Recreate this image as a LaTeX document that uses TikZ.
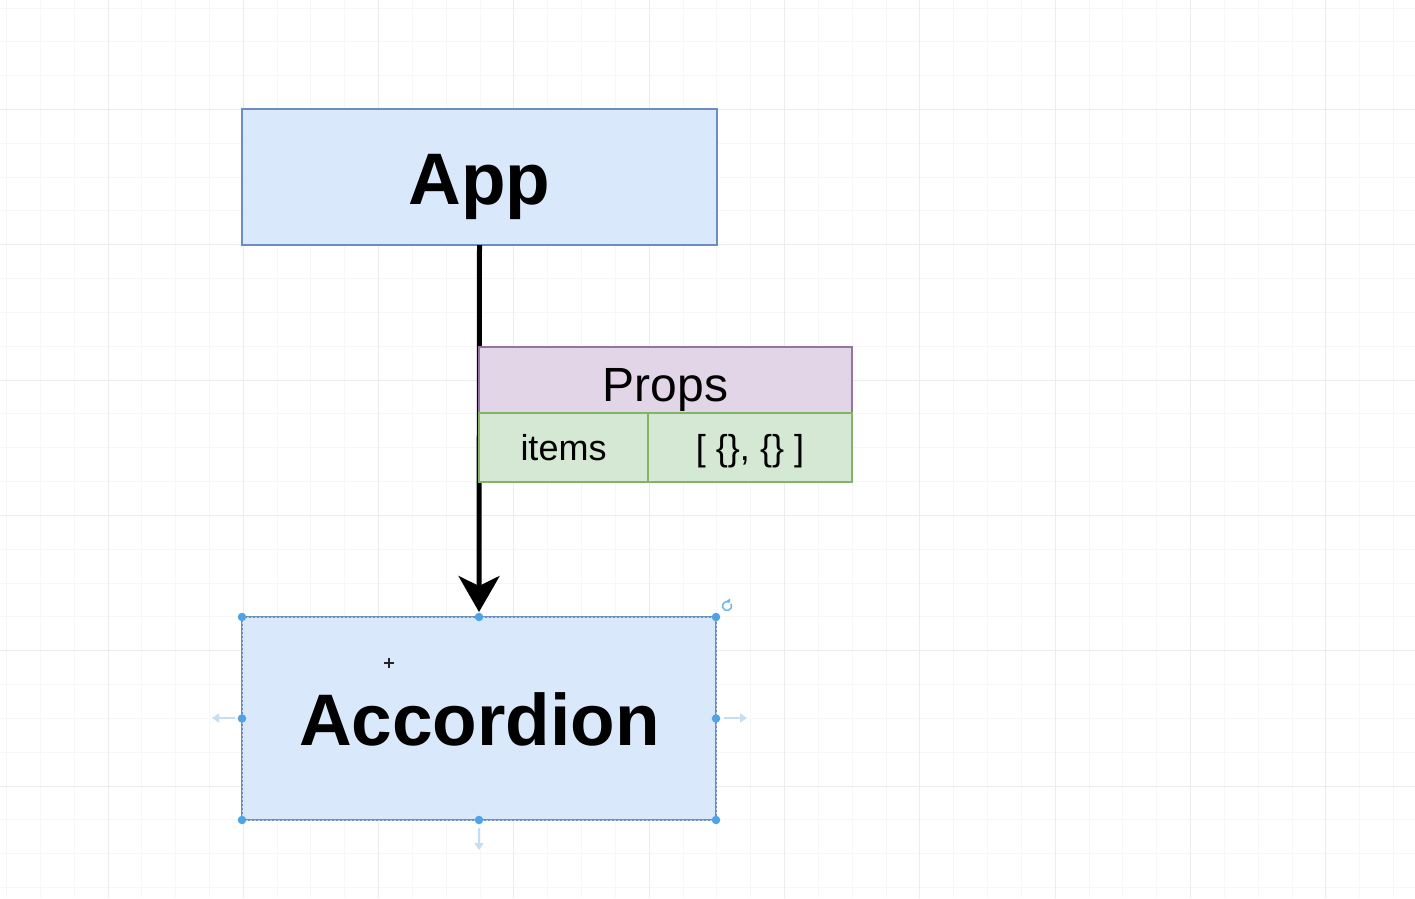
\documentclass[tikz,border=0pt]{standalone}
\usepackage{fontspec}
\setmainfont{Liberation Sans}
\usetikzlibrary{arrows.meta}
\definecolor{bluefill}{HTML}{DAE8FC}
\definecolor{bluedraw}{HTML}{6C8EBF}
\definecolor{purplefill}{HTML}{E1D5E7}
\definecolor{purpledraw}{HTML}{9673A6}
\definecolor{greenfill}{HTML}{D5E8D4}
\definecolor{greendraw}{HTML}{82B366}
\definecolor{handle}{HTML}{4DA3E4}
\definecolor{hint}{HTML}{C5DFF2}
\definecolor{minorgrid}{HTML}{F7F7F7}
\definecolor{majorgrid}{HTML}{ECECEC}
\tikzset{
  compbox/.style={draw=bluedraw, fill=bluefill, line width=2.5pt, inner sep=0pt, outer sep=0pt},
  complabel/.style={anchor=base, inner sep=0pt, font=\fontsize{73}{80}\selectfont\bfseries},
  propshead/.style={draw=purpledraw, fill=purplefill, line width=2pt, inner sep=0pt, outer sep=0pt},
  propcell/.style={draw=greendraw, fill=greenfill, line width=2pt, inner sep=0pt, outer sep=0pt},
  headlabel/.style={anchor=base, inner sep=0pt, font=\fontsize{48}{52}\selectfont},
  celllabel/.style={anchor=base, inner sep=0pt, font=\fontsize{36}{40}\selectfont},
  handledot/.style={circle, fill=handle, inner sep=0pt, minimum size=8.5pt},
  hintarrow/.style={draw=hint, line width=2.5pt, -{Triangle[length=7pt,width=9pt]}},
}
\begin{document}
\begin{tikzpicture}[x=1pt,y=-1pt]
\useasboundingbox (0,0) rectangle (1415,898);
\fill[white] (0,0) rectangle (1415,898);
% grid
\foreach \k in {-3,...,38} {
  \pgfmathsetmacro{\gx}{round(107.5+33.83*\k)+0.5}
  \draw[minorgrid, line width=1pt] (\gx,0) -- (\gx,898);
}
\foreach \k in {-3,...,23} {
  \pgfmathsetmacro{\gy}{round(109+33.83*\k)+0.5}
  \draw[minorgrid, line width=1pt] (0,\gy) -- (1415,\gy);
}
\foreach \k in {0,...,9} {
  \pgfmathsetmacro{\gx}{round(107.5+135.3*\k)+0.5}
  \draw[majorgrid, line width=1pt] (\gx,0) -- (\gx,898);
}
\foreach \k in {0,...,5} {
  \pgfmathsetmacro{\gy}{round(109+135.3*\k)+0.5}
  \draw[majorgrid, line width=1pt] (0,\gy) -- (1415,\gy);
}
% components
\node[compbox, minimum width=475pt, minimum height=136pt] (app) at (479.5,177) {};
\node[complabel] (applabel) at (479.5,204) {App};
\node[compbox, minimum width=474pt, minimum height=203pt] (acc) at (479,718.5) {};
\draw[white!60!bluedraw, line width=1pt, dash pattern=on 2pt off 2pt]
  (acc.south west) rectangle (acc.north east);
\node[complabel] (acclabel) at (479.5,745) {Accordion};
% connector
\draw[line width=5pt, -{Stealth[length=36pt,width=41pt,inset=10pt]}, shorten >=5pt]
  (app.south) -- (acc.north);
% props
\node[propshead, minimum width=373pt, minimum height=66pt] (props) at (665.5,380) {};
\node[headlabel] (propslabel) at (665.5,401) {Props};
\node[propcell, minimum width=169pt, minimum height=69pt] (items) at (563.5,447.5) {};
\node[celllabel] (itemslabel) at (563.5,460) {items};
\node[propcell, minimum width=204pt, minimum height=69pt] (val) at (750,447.5) {};
\node[celllabel] (vallabel) at (750,460) {[ \{\}, \{\} ]};
% selection handles
\foreach \p in {north west,north,north east,west,east,south west,south,south east} {
  \node[handledot] (h-\p) at (acc.\p) {};
}
\coordinate (hl1) at (235,718); \coordinate (hl2) at (212,718);
\coordinate (hr1) at (724,718); \coordinate (hr2) at (747,718);
\coordinate (hb1) at (479,828); \coordinate (hb2) at (479,850);
\draw[hintarrow] (hl1) -- (hl2);
\draw[hintarrow] (hr1) -- (hr2);
\draw[hintarrow] (hb1) -- (hb2);
% rotate icon
\coordinate (rot) at (727,606);
\draw[handle!80, line width=1.5pt] (rot) ++(60:4.5pt) arc[start angle=60, end angle=390, radius=4.5pt];
\fill[handle!80] (rot) ++(0,-5.5) -- ++(3,-2) -- ++(0,4) -- cycle;
% cursor
\coordinate (cur) at (389,663);
\draw[black!85, line width=2.5pt] ([xshift=-5pt]cur) -- ([xshift=5pt]cur);
\draw[black!85, line width=2.5pt] ([yshift=-5pt]cur) -- ([yshift=5pt]cur);
\end{tikzpicture}
\end{document}
